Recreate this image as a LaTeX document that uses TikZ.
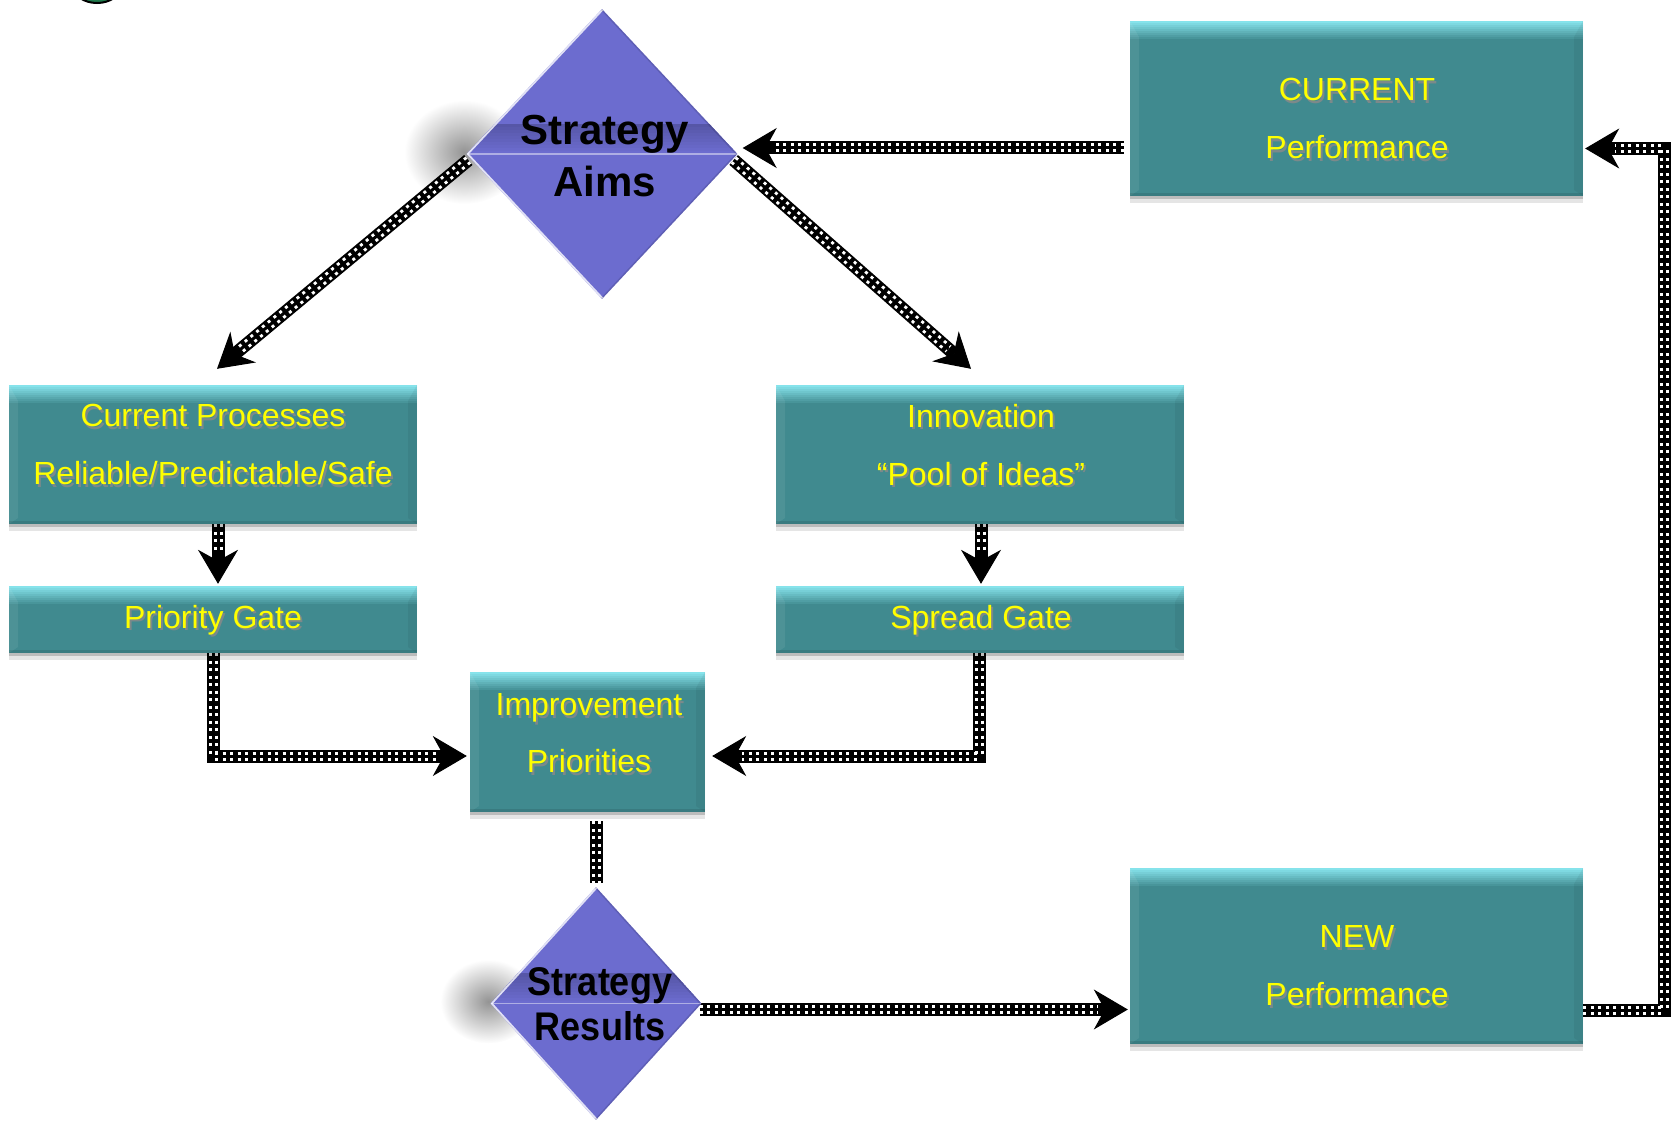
\documentclass[tikz,border=0pt]{standalone}
\usepackage{fontspec}
\setmainfont{Liberation Sans}
\usetikzlibrary{arrows.meta,shapes.geometric,shadows,calc}
\pgfdeclarelayer{deep}
\pgfdeclarelayer{back}
\pgfsetlayers{deep,back,main}

\definecolor{teal0}{HTML}{408A8F}
\definecolor{tealhi}{HTML}{86E3EB}
\definecolor{dia}{HTML}{6C6CCF}
\definecolor{diadark}{HTML}{4E4E98}
\definecolor{ylw}{HTML}{FFFF00}
\definecolor{tshadow}{HTML}{7C898A}
\definecolor{knob}{HTML}{1F7A4C}

% yellow label with a soft grey copy underneath
\newcommand\ytext[1]{\makebox[0pt][l]{\hspace{2pt}\raisebox{-2.5pt}{\textcolor{tshadow}{#1}}}#1}

\tikzset{
  box/.style={rectangle, fill=teal0, inner sep=0pt,
    drop shadow={shadow xshift=0pt, shadow yshift=-3pt, opacity=.18, fill=black},
    drop shadow={shadow xshift=0pt, shadow yshift=-7pt, opacity=.10, fill=black},
    path picture={
      % bevelled top edge, light to dark
      \foreach[evaluate=\i as \p using int(100-\i*11)] \i in {0,...,8}
        \fill[tealhi!\p!teal0]
          ([yshift={-2pt*\i}]path picture bounding box.north west)
          rectangle ([yshift={-2pt*\i-2.4pt}]path picture bounding box.north east);
      % side bevels
      \fill[white, opacity=.07]
        (path picture bounding box.north west) -- ++(9pt,-16pt)
        -- ([xshift=9pt,yshift=6pt]path picture bounding box.south west)
        -- (path picture bounding box.south west) -- cycle;
      \fill[black, opacity=.05]
        (path picture bounding box.north east) -- ++(-9pt,-16pt)
        -- ([xshift=-9pt,yshift=6pt]path picture bounding box.south east)
        -- (path picture bounding box.south east) -- cycle;
      \fill[black, opacity=.10]
        (path picture bounding box.south west) rectangle ([yshift=3pt]path picture bounding box.south east);
    }},
  dmd/.style={diamond, fill=dia, inner sep=0pt,
    path picture={
      % darker band just above the middle fold
      \foreach[evaluate=\i as \p using int(100-\i*8)] \i in {0,...,9}
        \fill[dia!\p!diadark]
          ([yshift={3pt*\i}]path picture bounding box.west)
          rectangle ([yshift={3pt*\i+3.4pt}]path picture bounding box.east);
      \draw[white, opacity=.45, line width=1.5pt]
        (path picture bounding box.west) -- (path picture bounding box.east);
      \draw[white, opacity=.8, line width=3.5pt]
        (path picture bounding box.south) -- (path picture bounding box.west) -- (path picture bounding box.north);
      \draw[black, opacity=.12, line width=3pt]
        (path picture bounding box.north) -- (path picture bounding box.east) -- (path picture bounding box.south);
    }},
  ytxt/.style={text=ylw, font=\fontsize{32}{58}\selectfont, align=center, inner sep=0pt},
  dtxt/.style={text=black, font=\bfseries\fontsize{42}{52}\selectfont, align=center, inner sep=0pt},
  flow/.style={draw=black, line width=13pt,
    postaction={draw=white, line width=9pt, dash pattern=on 3pt off 4.5pt, arrows=-},
    postaction={draw=black, line width=3pt, arrows=-}},
  flowtip/.style={draw=black, line width=13pt,
    -{Stealth[length=34pt, width=40pt, inset=11pt, line width=1pt]},
    postaction={draw=white, line width=9pt, dash pattern=on 3pt off 4.5pt, arrows=-, shorten >=30pt},
    postaction={draw=black, line width=3pt, arrows=-, shorten >=30pt}},
}

\begin{document}
\begin{tikzpicture}[x=1pt, y=-1pt]
\useasboundingbox (0,0) rectangle (1676,1121);

% rim of a round badge peeking in at the top
\draw[black, line width=2pt, fill=knob] (97,-14) ellipse (24pt and 17pt);

% boxes
\node[box, minimum width=453pt, minimum height=175pt] (cur) at (1356.5,108.5) {};
\node[box, minimum width=453pt, minimum height=176pt] (new) at (1356.5,956) {};
\node[box, minimum width=408pt, minimum height=139pt] (cp)  at (213,454.5) {};
\node[box, minimum width=408pt, minimum height=67pt]  (pg)  at (213,619.5) {};
\node[box, minimum width=408pt, minimum height=139pt] (inn) at (980,454.5) {};
\node[box, minimum width=408pt, minimum height=67pt]  (sg)  at (980,619.5) {};
\node[box, minimum width=235pt, minimum height=140pt] (imp) at (587.5,742) {};

% decision diamonds
\node[dmd, minimum width=271pt, minimum height=290pt] (aims) at (602,154) {};
\node[dmd, minimum width=211pt, minimum height=233pt] (res)  at (596,1003.5) {};

% labels
\node[ytxt] (curtxt) at (1357,120) {\ytext{CURRENT}\\\ytext{Performance}};
\node[ytxt] (newtxt) at (1357,967) {\ytext{NEW}\\\ytext{Performance}};
\node[ytxt] (cptxt)  at (213,446)  {\ytext{Current Processes}\\\ytext{Reliable/Predictable/Safe}};
\node[ytxt] (pgtxt)  at (213,621)  {\ytext{Priority Gate}};
\node[ytxt] (inntxt) at (981,446)  {\ytext{Innovation}\\\ytext{“Pool of Ideas”}};
\node[ytxt] (sgtxt)  at (981,621)  {\ytext{Spread Gate}};
\node[ytxt, font=\fontsize{32}{57}\selectfont] (imptxt) at (589,734.5) {\ytext{Improvement}\\\ytext{Priorities}};
\node[dtxt] (aimstxt) at (605,156) {Strategy\\Aims};
\node[dtxt, font=\bfseries\fontsize{40}{45}\selectfont] (restxt) at (600,1004.5)
  {\scalebox{0.9}[1]{Strategy}\\\scalebox{0.9}[1]{Results}};

% soft shadows at the left corners of the diamonds
\begin{pgfonlayer}{deep}
  \shade[inner color=black!42, outer color=white] ($(aims.west)+(-2pt,2pt)$) ellipse (60pt and 52pt);
  \shade[inner color=black!42, outer color=white] ($(res.west)+(-2pt,2pt)$) ellipse (48pt and 42pt);
\end{pgfonlayer}

% connectors
\coordinate (loopx) at (1664,0);
\begin{pgfonlayer}{back}
  \draw[flowtip] ($(aims.east -| cur.west)+(-6pt,6pt)$) -- ($(aims.east)+(5pt,6pt)$);
  \draw[flowtip] ($(aims.west)+(2pt,-6pt)$) -- ($(cp.north)+(4pt,16pt)$);
  \draw[flowtip] ($(aims.east)+(-4pt,-6pt)$) -- ($(inn.north)+(-9pt,16pt)$);
  \draw[flowtip] ($(cp.south)+(5pt,0)$) -- ($(pg.north)+(5pt,2pt)$);
  \draw[flowtip] ($(inn.south)+(1pt,0)$) -- ($(sg.north)+(1pt,2pt)$);
  \draw[flowtip] (pg.south) |- ($(imp.west)+(-3pt,-14pt)$);
  \draw[flowtip] ($(sg.south)+(-1pt,0)$) |- ($(imp.east)+(7pt,-14pt)$);
  \draw[flow] ($(res.north |- imp.south)+(0,-9pt)$) -- ($(res.north)+(0,4pt)$);
  \draw[flowtip] ($(res.east)+(-2pt,-6pt)$) -- ($(res.east -| new.west)+(-2pt,-6pt)$);
  \draw[flowtip] ($(new.east)+(0,-54pt)$) -| ($(cur.east -| loopx)+(0,-40pt)$) -- ($(cur.east)+(2pt,-40pt)$);
\end{pgfonlayer}
\end{tikzpicture}
\end{document}
